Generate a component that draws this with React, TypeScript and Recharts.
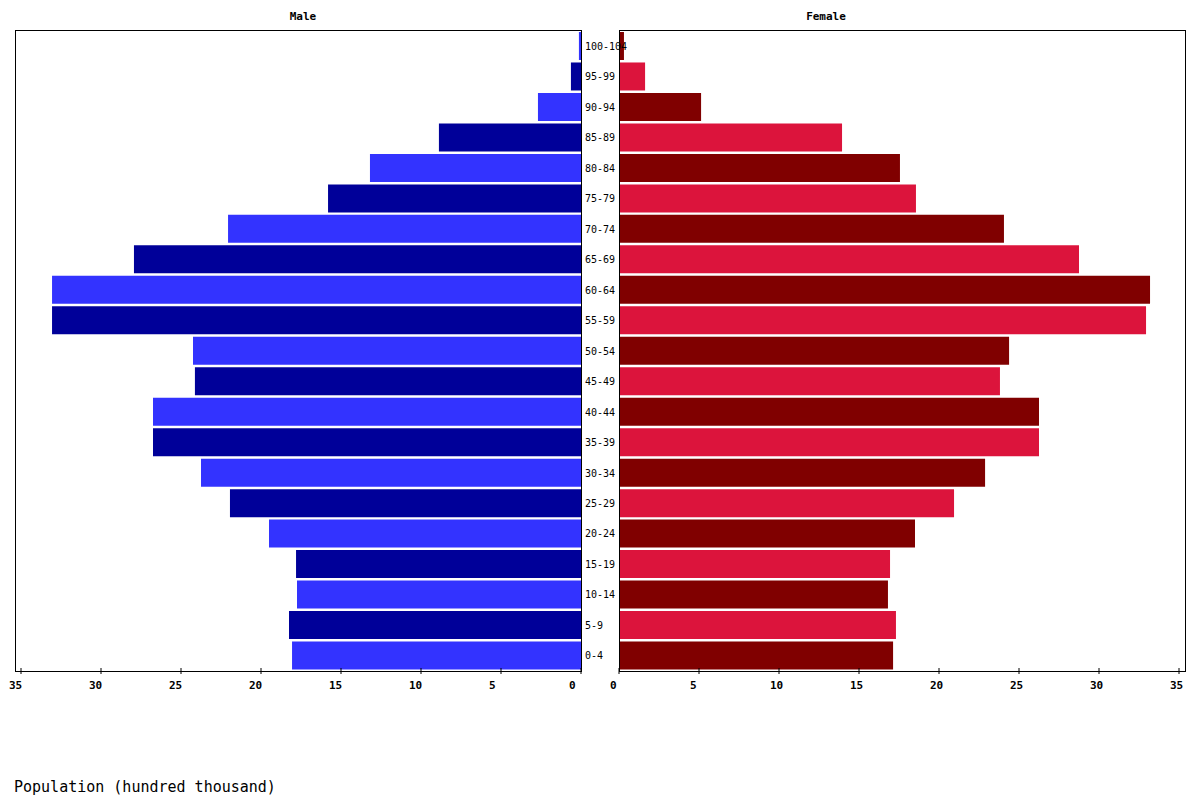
import React from "react";
import { BarChart, Bar, XAxis, YAxis, Cell } from "recharts";

const ageGroups = [
  "0-4", "5-9", "10-14", "15-19", "20-24", "25-29", "30-34", "35-39", "40-44", "45-49",
  "50-54", "55-59", "60-64", "65-69", "70-74", "75-79", "80-84", "85-89", "90-94", "95-99", "100-104",
];
const maleValues = [
  18.06, 18.25, 17.75, 17.81, 19.5, 21.94, 23.75, 26.75, 26.75, 24.13,
  24.25, 33.06, 33.06, 27.94, 22.06, 15.81, 13.19, 8.88, 2.69, 0.63, 0.13,
];
const femaleValues = [
  17.13, 17.31, 16.81, 16.94, 18.5, 20.94, 22.88, 26.25, 26.25, 23.81,
  24.38, 32.94, 33.19, 28.75, 24.06, 18.56, 17.56, 13.94, 5.13, 1.63, 0.31,
];
const xTicks = [0, 5, 10, 15, 20, 25, 30, 35];
const maleColors = ["#3333FF", "#000099"];
const femaleColors = ["#800000", "#DC143C"];

const maleData = ageGroups.map((age, i) => ({ age, value: maleValues[i] }));
const femaleData = ageGroups.map((age, i) => ({ age, value: femaleValues[i] }));

const MONO = "'DejaVu Sans Mono', 'Liberation Mono', monospace";
const DOMAIN: [number, number] = [0, 35.375];

const makeXTick = (shift: number) => (props: any) => {
  const { x, y, payload } = props;
  return (
    <g>
      <line x1={x} x2={x} y1={y - 3} y2={y + 3} stroke="#000" strokeWidth={1} />
      <text
        x={x + shift}
        y={y + 18}
        textAnchor="start"
        fontFamily={MONO}
        fontWeight="bold"
        fontSize={11}
        fill="#000"
      >
        {payload.value}
      </text>
    </g>
  );
};

const AgeTick = (props: any) => {
  const { y, payload } = props;
  return (
    <text x={4} y={y} dy="0.36em" textAnchor="start" fontFamily={MONO} fontSize={10} fill="#000">
      {payload.value}
    </text>
  );
};

const box = (left: number): React.CSSProperties => ({
  position: "absolute",
  left,
  top: 30,
  width: 567,
  height: 642,
  border: "1px solid #000",
  boxSizing: "border-box",
  pointerEvents: "none",
});

export default function App() {
  return (
    <div style={{ position: "absolute", left: 0, top: 0, width: 1200, height: 800, background: "#fff" }}>
      <div style={{ position: "absolute", left: 0, top: 0 }}>
        <BarChart
          width={600}
          height={700}
          data={maleData}
          layout="vertical"
          margin={{ top: 31, right: 19, left: 15, bottom: 0 }}
          barCategoryGap={1}
        >
          <XAxis
            type="number"
            reversed
            domain={DOMAIN}
            ticks={xTicks}
            height={29}
            axisLine={false}
            tickLine={false}
            tickSize={0}
            tickMargin={0}
            tick={makeXTick(-12)}
            allowDataOverflow
          />
          <YAxis type="category" dataKey="age" reversed hide width={0} />
          <Bar dataKey="value" isAnimationActive={false}>
            {maleData.map((d, i) => (
              <Cell key={d.age} fill={maleColors[i % 2]} />
            ))}
          </Bar>
        </BarChart>
      </div>
      <div style={{ position: "absolute", left: 581, top: 0 }}>
        <BarChart
          width={619}
          height={700}
          data={femaleData}
          layout="vertical"
          margin={{ top: 31, right: 15, left: 0, bottom: 0 }}
          barCategoryGap={1}
        >
          <XAxis
            type="number"
            domain={DOMAIN}
            ticks={xTicks}
            height={29}
            axisLine={false}
            tickLine={false}
            tickSize={0}
            tickMargin={0}
            tick={makeXTick(-9)}
            allowDataOverflow
          />
          <YAxis
            type="category"
            dataKey="age"
            reversed
            width={38}
            axisLine={false}
            tickLine={false}
            tickSize={0}
            tickMargin={0}
            tick={AgeTick}
            interval={0}
          />
          <Bar dataKey="value" isAnimationActive={false}>
            {femaleData.map((d, i) => (
              <Cell key={d.age} fill={femaleColors[i % 2]} />
            ))}
          </Bar>
        </BarChart>
      </div>
      <div style={box(15)} />
      <div style={box(619)} />
      <div
        style={{
          position: "absolute",
          left: 303,
          top: 10,
          transform: "translateX(-50%)",
          fontFamily: MONO,
          fontWeight: "bold",
          fontSize: 11,
          lineHeight: "13px",
        }}
      >
        Male
      </div>
      <div
        style={{
          position: "absolute",
          left: 826,
          top: 10,
          transform: "translateX(-50%)",
          fontFamily: MONO,
          fontWeight: "bold",
          fontSize: 11,
          lineHeight: "13px",
        }}
      >
        Female
      </div>
      <div
        style={{
          position: "absolute",
          left: 14,
          top: 778,
          fontFamily: MONO,
          fontSize: 15,
          lineHeight: "18px",
          whiteSpace: "nowrap",
        }}
      >
        Population (hundred thousand)
      </div>
    </div>
  );
}
